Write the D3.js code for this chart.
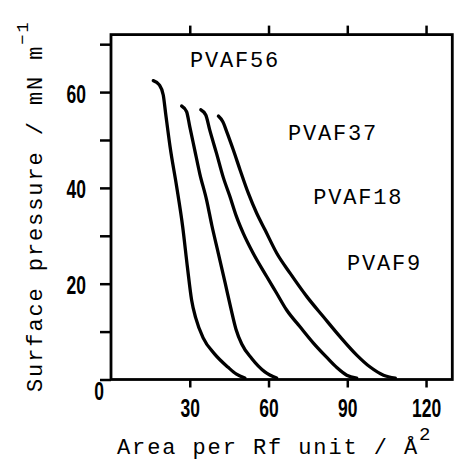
<!DOCTYPE html>
<html>
<head>
<meta charset="utf-8">
<script src="https://cdn.jsdelivr.net/npm/d3@7"></script>
<style>
  body { margin: 0; background: #fff; }
  .tick text { font-family: "Liberation Sans", Arial, sans-serif; font-weight: bold; font-size: 25px; fill: #000; }
  .mono { font-family: "Liberation Mono", "DejaVu Sans Mono", monospace; fill: #000; }
</style>
</head>
<body>
<svg id="chart"></svg>
<script>
// surface pressure isotherms, area per Rf unit (Å^2) vs pressure (mN/m)
const seriesNames = ['PVAF56', 'PVAF37', 'PVAF18', 'PVAF9'];

const areaPVAF56 = [16.1, 18.4, 19.9, 20.8, 22.5, 25.0, 27.3, 29.1, 30.7, 32.3, 35.1, 39.5, 44.5, 47.8, 51.0];
const presPVAF56 = [62.4, 61.5, 59.4, 55.6, 48.6, 40.3, 31.9, 23.5, 16.6, 12.8, 8.7, 5.3, 2.6, 1.1, 0.3];

const areaPVAF37 = [26.9, 28.8, 30.0, 31.9, 33.8, 36.4, 38.4, 40.9, 43.5, 45.6, 47.6, 49.8, 53.6, 58.6, 63.1];
const presPVAF37 = [57.1, 55.9, 52.8, 47.9, 43.0, 37.5, 32.2, 26.3, 20.1, 15.0, 10.5, 7.4, 4.4, 1.6, 0.3];

const areaPVAF18 = [34.2, 36.1, 37.6, 40.2, 42.7, 45.3, 47.8, 50.4, 54.2, 59.3, 63.1, 66.9, 72.0, 77.1, 82.2, 86.0, 89.8, 93.6];
const presPVAF18 = [56.3, 55.2, 52.1, 47.2, 42.3, 38.2, 34.0, 30.5, 26.3, 21.5, 18.0, 14.5, 11.0, 7.6, 4.6, 2.5, 0.9, 0.3];

const areaPVAF9 = [40.9, 42.6, 44.1, 46.6, 49.2, 52.3, 55.5, 58.7, 63.2, 68.2, 74.6, 80.9, 87.3, 93.6, 98.7, 103.8, 108.3];
const presPVAF9 = [55.0, 53.8, 51.7, 47.9, 43.7, 38.9, 34.7, 31.2, 26.3, 22.2, 17.3, 13.1, 8.9, 5.1, 2.6, 0.9, 0.3];

const xTicks = [30, 60, 90, 120];
const yTicks = [0, 10, 20, 30, 40, 50, 60, 70];
const yTickLabels = [0, 20, 40, 60];

// where each series name sits, in data units (area, pressure)
const labelAnchors = [[30.1, 65.2], [67.4, 50.0], [77.0, 36.6], [89.9, 22.9]];

const width = 455, height = 461;
const margin = { left: 111, right: 452.3, top: 34.6, bottom: 379.5 };
const squeeze = 0.7; // tick digits are printed condensed

const svg = d3.select('#chart')
    .attr('width', width)
    .attr('height', height);

const x = d3.scaleLinear().domain([0, 130]).range([margin.left, margin.right]);
const y = d3.scaleLinear().domain([0, 72]).range([margin.bottom, margin.top]);

const series = [
  areaPVAF56.map((a, i) => [a, presPVAF56[i]]),
  areaPVAF37.map((a, i) => [a, presPVAF37[i]]),
  areaPVAF18.map((a, i) => [a, presPVAF18[i]]),
  areaPVAF9.map((a, i) => [a, presPVAF9[i]])
];

// axes
const xAxis = svg.append('g')
    .attr('transform', `translate(0, ${margin.bottom})`)
    .call(d3.axisBottom(x).tickValues(xTicks).tickSize(8).tickPadding(12));

svg.append('g')
    .attr('transform', `translate(0, ${margin.top})`)
    .call(d3.axisTop(x).tickValues(xTicks).tickSize(9).tickFormat(''));

const yAxis = svg.append('g')
    .attr('transform', `translate(${margin.left}, 0)`)
    .call(d3.axisLeft(y).tickValues(yTicks).tickSize(11).tickPadding(14)
      .tickFormat(d => yTickLabels.includes(d) ? d : ''));

svg.selectAll('.domain').remove();
svg.selectAll('.tick line').attr('stroke', '#000').attr('stroke-width', 2.5);

xAxis.selectAll('.tick text')
    .attr('dy', '0.72em')
    .attr('transform', `scale(${squeeze}, 1)`);

yAxis.selectAll('.tick text')
    .attr('dy', '0.4em')
    .attr('x', -25 / squeeze)
    .attr('transform', `scale(${squeeze}, 1)`);

yAxis.selectAll('.tick text')
    .filter(d => d === 0)
    .attr('text-anchor', 'middle')
    .attr('x', -12 / squeeze)
    .attr('dy', '0.8em');

// frame
svg.append('rect')
    .attr('x', x(0))
    .attr('y', y(72))
    .attr('width', x(130) - x(0))
    .attr('height', y(0) - y(72))
    .attr('fill', 'none')
    .attr('stroke', '#000')
    .attr('stroke-width', 2.8);

// curves
const line = d3.line()
    .x(d => x(d[0]))
    .y(d => y(d[1]))
    .curve(d3.curveMonotoneX);

svg.append('g')
    .selectAll('path')
    .data(series)
  .enter().append('path')
    .attr('d', line)
    .attr('fill', 'none')
    .attr('stroke', '#000')
    .attr('stroke-width', 3.3)
    .attr('stroke-linecap', 'round');

// series labels
svg.append('g')
    .selectAll('text')
    .data(seriesNames)
  .enter().append('text')
    .attr('class', 'mono')
    .attr('x', (d, i) => x(labelAnchors[i][0]))
    .attr('y', (d, i) => y(labelAnchors[i][1]))
    .attr('font-size', 22)
    .attr('letter-spacing', 1.8)
    .text(d => d);

// axis titles
const xTitle = svg.append('text')
    .attr('class', 'mono')
    .attr('x', 117)
    .attr('y', 454)
    .attr('font-size', 22)
    .attr('letter-spacing', 1.9)
    .text('Area per Rf unit / Å');
xTitle.append('tspan')
    .attr('dy', -14)
    .attr('font-size', 19)
    .text('2');

const yTitle = svg.append('text')
    .attr('class', 'mono')
    .attr('transform', 'translate(42, 392) rotate(-90)')
    .attr('font-size', 22)
    .attr('letter-spacing', 1.9)
    .text('Surface pressure / mN m');
yTitle.append('tspan')
    .attr('dy', -14)
    .attr('font-size', 17)
    .text('\u22121');
</script>
</body>
</html>
